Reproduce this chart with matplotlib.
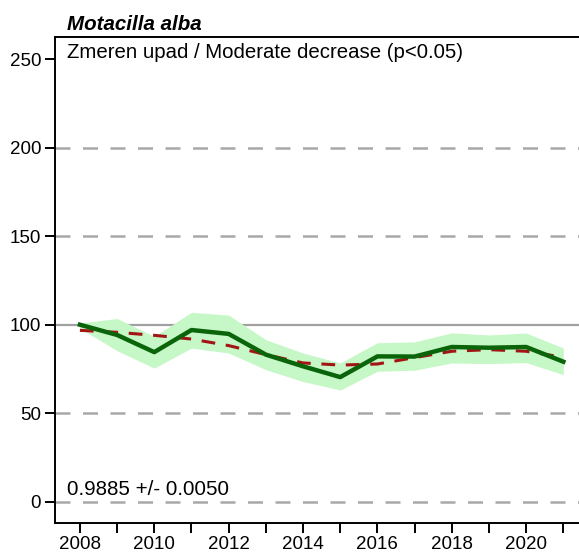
import matplotlib
matplotlib.use('Agg')
import matplotlib.pyplot as plt
import numpy as np

plt.rcParams['font.family'] = ['Liberation Sans', 'DejaVu Sans']

# Data
years = np.arange(2008, 2022)
index = [100, 94.2, 84.5, 97.0, 94.8, 83.1, 76.5, 70.4, 82.1, 82.0, 87.4, 87.0, 87.4, 79.1]
upper = [101, 103.5, 93.4, 107.0, 105.4, 91.5, 84.0, 78.4, 89.8, 90.3, 95.4, 94.2, 95.3, 86.8]
lower = [98, 85.3, 75.5, 86.8, 84.0, 74.6, 67.9, 63.1, 73.7, 74.3, 78.4, 78.0, 78.6, 71.8]
trend = [96.8, 95.7, 94.0, 91.9, 88.2, 83.1, 78.4, 77.2, 77.8, 81.4, 85.0, 85.9, 85.0, 81.6]
yticks = [0, 50, 100, 150, 200, 250]
grid_dashed = [0, 50, 150, 200]

fig = plt.figure(figsize=(5.79, 5.55), dpi=100)
ax = fig.add_axes([0.095, 0.0577, 0.921, 0.8756])

for g in grid_dashed:
    ax.axhline(g, color='#a8a8a8', linewidth=1.8, dashes=(6, 5), zorder=1)
ax.axhline(100, color='#a0a0a0', linewidth=1.6, zorder=1)

ax.fill_between(years, lower, upper, color='#c6f7c6', linewidth=0, zorder=2)
ax.plot(years, trend, color='#a31515', linewidth=2.2, dashes=(4.5, 3.5), zorder=3)
ax.plot(years, index, color='#0a640a', linewidth=3.2, zorder=4)

ax.set_xlim(2007.33, 2021.67)
ax.set_ylim(-12, 262.5)
ax.set_yticks(yticks)
ax.set_xticks(years)
ax.set_xticklabels([str(y) if y % 2 == 0 else '' for y in years])
ax.tick_params(axis='both', direction='out', length=7, width=1.4, labelsize=13.5, colors='black')
ax.tick_params(axis='x', pad=2.5)
ax.tick_params(axis='y', pad=3)

for s in ['left', 'bottom', 'top']:
    ax.spines[s].set_linewidth(1.4)
ax.spines['right'].set_visible(False)

ax.text(0.022, 0.988, 'Zmeren upad / Moderate decrease (p<0.05)', transform=ax.transAxes,
        ha='left', va='top', fontsize=14.7)
ax.text(0.022, 0.068, '0.9885 +/- 0.0050', transform=ax.transAxes,
        ha='left', va='center', fontsize=14.8)
fig.text(0.116, 0.955, 'Motacilla alba', ha='left', va='center', fontsize=14.8,
         fontweight='bold', fontstyle='italic')

fig.savefig('out.png', dpi=100)
